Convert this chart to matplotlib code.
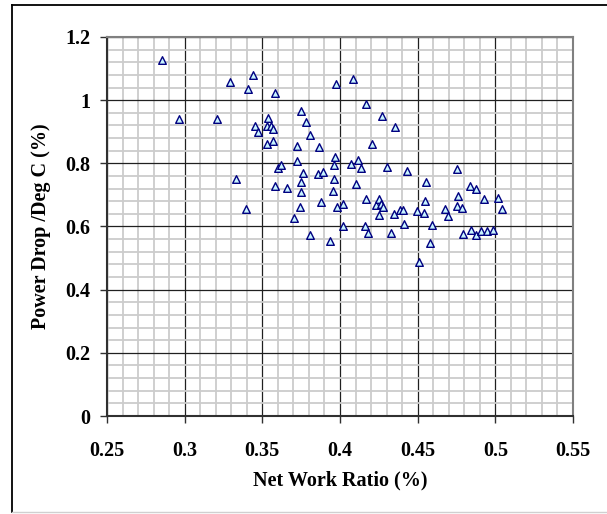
import numpy as np
import matplotlib.pyplot as plt
from matplotlib.ticker import MultipleLocator
from matplotlib.lines import Line2D

# Net work ratio vs power drop per deg C
net_work_ratio = [
    0.2853, 0.2965, 0.3209, 0.3294, 0.3328, 0.3393, 0.3408, 0.3443, 0.3455, 0.3473,
    0.3527, 0.3535, 0.3527, 0.3557, 0.3567, 0.3567, 0.3580, 0.3580, 0.3600, 0.3617,
    0.3657, 0.3701, 0.3726, 0.3726, 0.3741, 0.3749, 0.3749, 0.3749, 0.3764, 0.3784,
    0.3806, 0.3806, 0.3856, 0.3863, 0.3876, 0.3888, 0.3933, 0.3955, 0.3963, 0.3963,
    0.3970, 0.3975, 0.3983, 0.4020, 0.4020, 0.4070, 0.4082, 0.4104, 0.4119, 0.4134,
    0.4159, 0.4169, 0.4169, 0.4182, 0.4204, 0.4234, 0.4249, 0.4249, 0.4266, 0.4269,
    0.4279, 0.4303, 0.4331, 0.4346, 0.4353, 0.4386, 0.4403, 0.4413, 0.4433, 0.4493,
    0.4510, 0.4540, 0.4547, 0.4552, 0.4582, 0.4590, 0.4674, 0.4697, 0.4751, 0.4751,
    0.4759, 0.4786, 0.4789, 0.4836, 0.4846, 0.4878, 0.4878, 0.4910, 0.4928, 0.4945,
    0.4985, 0.5015, 0.5042,
]
power_drop = [
    1.126, 0.939, 0.939, 1.059, 0.750, 0.655, 1.034, 1.080, 0.919, 0.900,
    0.860, 0.944, 0.919, 0.917, 0.908, 0.871, 1.024, 0.727, 0.785, 0.796,
    0.723, 0.627, 0.855, 0.808, 0.663, 0.966, 0.741, 0.709, 0.769, 0.932,
    0.889, 0.572, 0.765, 0.853, 0.678, 0.773, 0.555, 0.711, 0.750, 0.794,
    0.820, 1.052, 0.663, 0.671, 0.601, 0.797, 1.066, 0.735, 0.809, 0.786,
    0.602, 0.989, 0.688, 0.580, 0.862, 0.668, 0.686, 0.635, 0.672, 0.951,
    0.663, 0.789, 0.580, 0.640, 0.916, 0.651, 0.653, 0.609, 0.776, 0.648,
    0.489, 0.643, 0.681, 0.741, 0.549, 0.604, 0.654, 0.633, 0.783, 0.664,
    0.697, 0.660, 0.577, 0.728, 0.588, 0.718, 0.572, 0.586, 0.686, 0.586,
    0.588, 0.691, 0.656,
]

W, H = 607, 514
fig = plt.figure(figsize=(W / 100, H / 100), dpi=100)
plt.rcParams['font.family'] = ['Liberation Serif', 'DejaVu Serif']

# outer chart frame (left/top dark, bottom light)
fig.add_artist(Line2D([12 / W, 12 / W], [1 - 5 / H, 1 - 512 / H], color='black', lw=1.3))
fig.add_artist(Line2D([12 / W, 1.0], [1 - 5 / H, 1 - 5 / H], color='black', lw=1.3))
fig.add_artist(Line2D([12 / W, 1.0], [1 - 512 / H, 1 - 512 / H], color='#d0d0d0', lw=1))

ax = fig.add_axes([107 / W, 1 - 416 / H, (573 - 107) / W, (416 - 37) / H])
ax.scatter(net_work_ratio, power_drop, marker='^', s=30, facecolor='#c8f4ff',
           edgecolor='#000080', linewidths=1.0, zorder=3)

ax.set_xlim(0.25, 0.55)
ax.set_ylim(0, 1.2)
ax.xaxis.set_major_locator(MultipleLocator(0.05))
ax.xaxis.set_minor_locator(MultipleLocator(0.01))
ax.yaxis.set_major_locator(MultipleLocator(0.2))
ax.yaxis.set_minor_locator(MultipleLocator(0.04))
ax.set_xticklabels([f'{v:g}' for v in ax.get_xticks()])
ax.set_yticklabels([f'{v:g}' for v in ax.get_yticks()])

ax.grid(which='minor', color='#cccccc', lw=1.3, zorder=0)
ax.grid(which='major', color='#202020', lw=0.9, zorder=1)
ax.set_axisbelow(True)

for side in ['left', 'bottom']:
    ax.spines[side].set_color('#303030')
    ax.spines[side].set_linewidth(1.5)
for side in ['top', 'right']:
    ax.spines[side].set_color('#808080')
    ax.spines[side].set_linewidth(1.5)

ax.tick_params(which='major', direction='out', length=5, width=1, color='#303030',
               labelsize=14.5, pad=7)
ax.tick_params(axis='x', pad=13)
ax.tick_params(which='minor', length=0)
for lab in ax.get_xticklabels() + ax.get_yticklabels():
    lab.set_fontweight('bold')

ax.set_xlabel('Net Work Ratio (%)', fontsize=14.5, fontweight='bold', labelpad=7)
ax.set_ylabel('Power Drop /Deg C (%)', fontsize=14.5, fontweight='bold', labelpad=10)

fig.savefig('out.png', dpi=100)
